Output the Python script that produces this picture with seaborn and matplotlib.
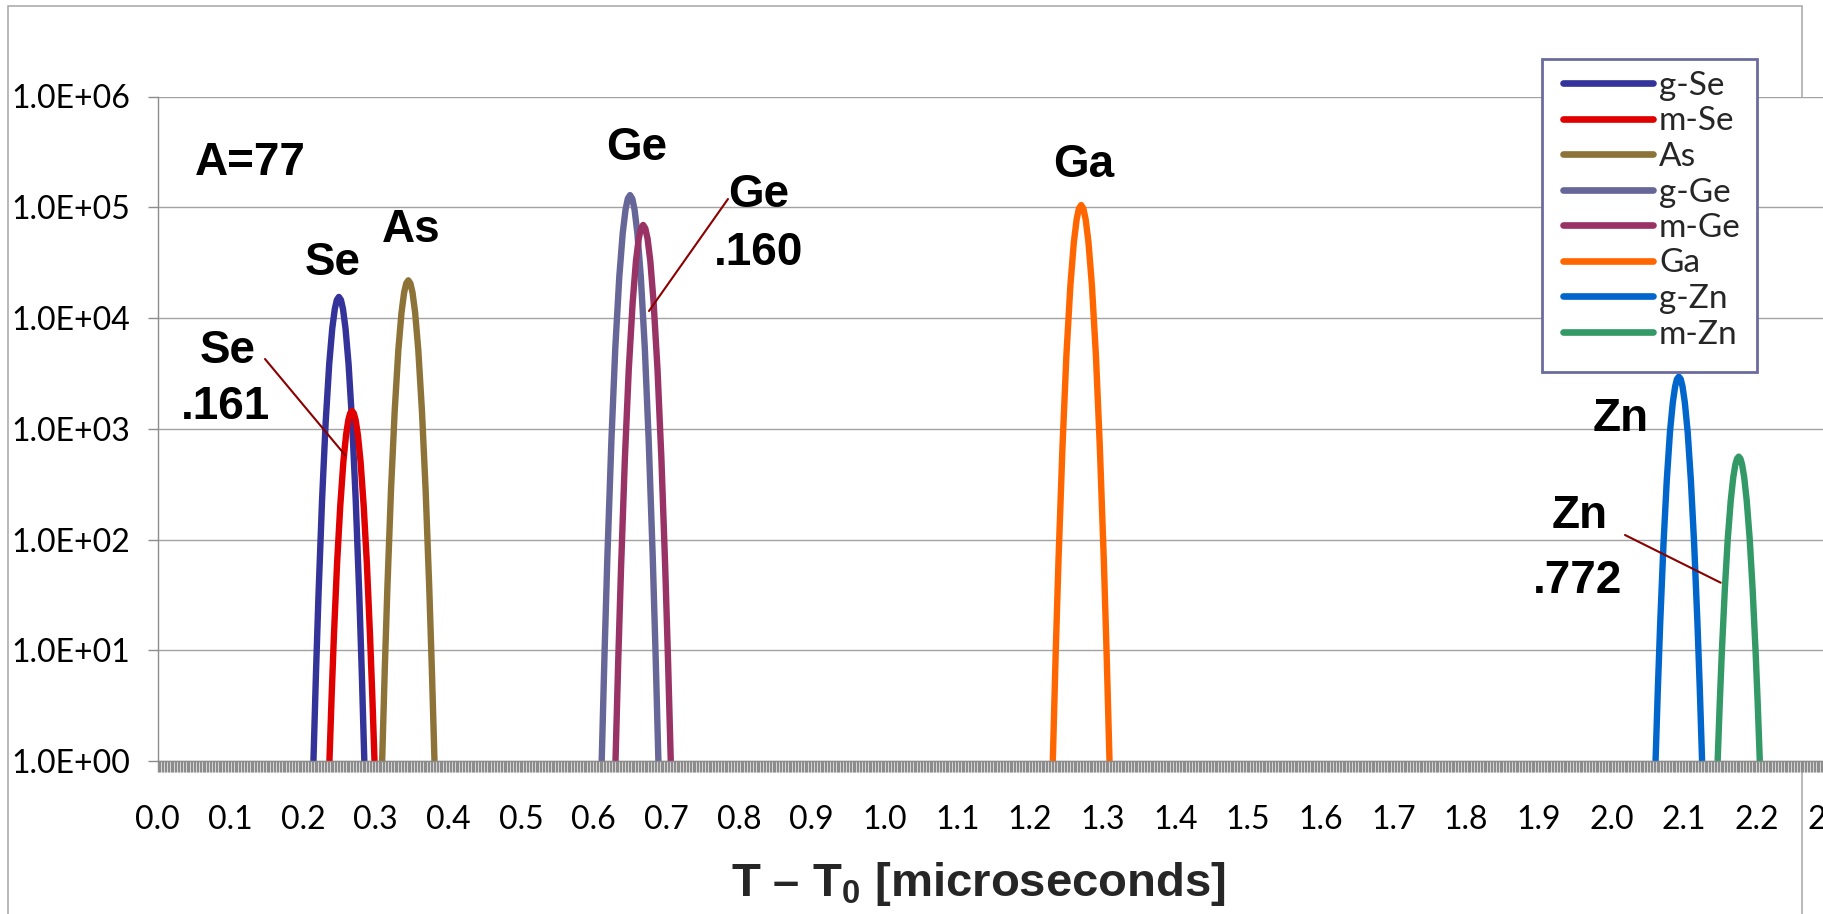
import numpy as np
import pandas as pd
import matplotlib
matplotlib.use("Agg")
import matplotlib.pyplot as plt
import seaborn as sns
from matplotlib.patches import Rectangle
from matplotlib.lines import Line2D
from matplotlib.ticker import MultipleLocator, NullLocator

# ---------------- data ----------------
series_names = ["g-Se", "m-Se", "As", "g-Ge", "m-Ge", "Ga", "g-Zn", "m-Zn"]
series_colors = ["#333399", "#E00000", "#8E7338", "#666699",
                 "#993366", "#FF6600", "#0066CC", "#339966"]

gse_t = [0.2145, 0.2180, 0.2215, 0.2264, 0.2313, 0.2362, 0.2404, 0.2439, 0.2467, 0.2495,
         0.2523, 0.2551, 0.2586, 0.2628, 0.2677, 0.2726, 0.2775, 0.2810, 0.2845]
gse_y = [1, 6.25, 32.2, 232, 1140, 3850, 8070, 12100, 14560, 15500,
         14560, 12100, 8070, 3850, 1140, 232, 32.2, 6.25, 1]

mse_t = [0.2365, 0.2396, 0.2427, 0.2470, 0.2514, 0.2557, 0.2594, 0.2625, 0.2650, 0.2675,
         0.2700, 0.2725, 0.2756, 0.2793, 0.2836, 0.2880, 0.2923, 0.2954, 0.2985]
mse_y = [1, 3.98, 13.7, 60.8, 202, 506, 883, 1200, 1380, 1445,
         1380, 1200, 883, 506, 202, 60.8, 13.7, 3.98, 1]

as_t = [0.3090, 0.3126, 0.3162, 0.3212, 0.3263, 0.3313, 0.3356, 0.3392, 0.3421, 0.3450,
        0.3479, 0.3508, 0.3544, 0.3587, 0.3637, 0.3688, 0.3738, 0.3774, 0.3810]
as_y = [1, 6.68, 36.5, 281, 1466, 5160, 11140, 16940, 20500, 21880,
        20500, 16940, 11140, 5160, 1466, 281, 36.5, 6.68, 1]

gge_t = [0.6110, 0.6149, 0.6188, 0.6243, 0.6297, 0.6352, 0.6399, 0.6438, 0.6469, 0.6500,
         0.6531, 0.6562, 0.6601, 0.6648, 0.6703, 0.6757, 0.6812, 0.6851, 0.6890]
gge_y = [1, 9.35, 69.2, 766, 5350, 23550, 58200, 95300, 119400, 128800,
         119400, 95300, 58200, 23550, 5350, 766, 69.2, 9.35, 1]

mge_t = [0.6300, 0.6338, 0.6376, 0.6429, 0.6482, 0.6536, 0.6581, 0.6619, 0.6650, 0.6680,
         0.6710, 0.6741, 0.6779, 0.6824, 0.6878, 0.6931, 0.6984, 0.7022, 0.7060]
mge_y = [1, 8.32, 55.2, 540, 3400, 13840, 32600, 52000, 64400, 69200,
         64400, 52000, 32600, 13840, 3400, 540, 55.2, 8.32, 1]

ga_t = [1.2315, 1.2354, 1.2393, 1.2448, 1.2502, 1.2557, 1.2604, 1.2643, 1.2674, 1.2705,
        1.2736, 1.2767, 1.2806, 1.2853, 1.2908, 1.2962, 1.3017, 1.3056, 1.3095]
ga_y = [1, 9.0, 64.1, 681, 4600, 19720, 47970, 77800, 97200, 104700,
        97200, 77800, 47970, 19720, 4600, 681, 64.1, 9.0, 1]

gzn_t = [2.0606, 2.0638, 2.0670, 2.0715, 2.0760, 2.0804, 2.0843, 2.0875, 2.0900, 2.0926,
         2.0952, 2.0977, 2.1009, 2.1048, 2.1092, 2.1137, 2.1182, 2.1214, 2.1246]
gzn_y = [1, 4.56, 17.7, 90.8, 340, 931, 1718, 2404, 2805, 2951,
         2805, 2404, 1718, 931, 340, 90.8, 17.7, 4.56, 1]

mzn_t = [2.1460, 2.1489, 2.1518, 2.1559, 2.1599, 2.1640, 2.1675, 2.1704, 2.1727, 2.1750,
         2.1773, 2.1796, 2.1825, 2.1860, 2.1901, 2.1941, 2.1982, 2.2011, 2.2040]
mzn_y = [1, 3.33, 9.75, 35.6, 101, 224, 365, 476, 537, 560,
         537, 476, 365, 224, 101, 35.6, 9.75, 3.33, 1]

x_tick_values = [0.0, 0.1, 0.2, 0.3, 0.4, 0.5, 0.6, 0.7, 0.8, 0.9, 1.0, 1.1,
                 1.2, 1.3, 1.4, 1.5, 1.6, 1.7, 1.8, 1.9, 2.0, 2.1, 2.2, 2.3]
x_tick_labels = ["0.0", "0.1", "0.2", "0.3", "0.4", "0.5", "0.6", "0.7", "0.8", "0.9", "1.0", "1.1",
                 "1.2", "1.3", "1.4", "1.5", "1.6", "1.7", "1.8", "1.9", "2.0", "2.1", "2.2", "2.3"]
y_tick_values = [1, 10, 100, 1000, 10000, 100000, 1000000]
y_tick_labels = ["1.0E+00", "1.0E+01", "1.0E+02", "1.0E+03", "1.0E+04", "1.0E+05", "1.0E+06"]

x_title = r"T – T$_\mathbf{0}$ [microseconds]"

# ---------------- build table ----------------
series_t = [gse_t, mse_t, as_t, gge_t, mge_t, ga_t, gzn_t, mzn_t]
series_y = [gse_y, mse_y, as_y, gge_y, mge_y, ga_y, gzn_y, mzn_y]
frames = []
for name, t, y in zip(series_names, series_t, series_y):
    frames.append(pd.DataFrame({"t": t, "counts": y, "series": name}))
df = pd.concat(frames, ignore_index=True)
palette = dict(zip(series_names, series_colors))

# ---------------- style ----------------
sns.set_style("white")
plt.rcParams["font.family"] = ["Lato", "DejaVu Sans"]
plt.rcParams["mathtext.fontset"] = "custom"
plt.rcParams["mathtext.rm"] = "Liberation Sans"
plt.rcParams["mathtext.bf"] = "Liberation Sans:bold"

W, H, DPI = 1823, 914, 100
fig = plt.figure(figsize=(W / DPI, H / DPI), dpi=DPI)
fig.patch.set_facecolor("white")


def fx(px):
    return px / W


def fy(py):
    return 1 - py / H


GRAY = "#8c8c8c"

# chart-area border
fig.patches.append(Rectangle((fx(7.5), fy(918)), fx(1801.5) - fx(7.5), fy(5.5) - fy(918),
                             transform=fig.transFigure, fill=False, edgecolor="#a6a6a6",
                             linewidth=1.1, zorder=-1))

X0, X1 = 0.0, 2.35
ax = fig.add_axes([fx(157.5), fy(761), (X1 - X0) * 727 / W, (761 - 96.5) / H])
ax.set_facecolor("white")
ax.set_zorder(1)

sns.lineplot(data=df, x="t", y="counts", hue="series", hue_order=series_names,
             palette=palette, sort=False, estimator=None, linewidth=4.6,
             legend=False, ax=ax, solid_joinstyle="round", solid_capstyle="butt")

ax.set_yscale("log")
ax.set_xlim(X0, X1)
ax.set_ylim(1, 1e6)
ax.set_xlabel("")
ax.set_ylabel("")

# grid
ax.set_axisbelow(True)
ax.yaxis.grid(True, color="#a3a3a3", linewidth=1.0)
ax.xaxis.grid(False)

for s in ["top", "right"]:
    ax.spines[s].set_visible(False)
ax.spines["left"].set_color(GRAY)
ax.spines["left"].set_linewidth(1.0)
ax.spines["bottom"].set_color(GRAY)
ax.spines["bottom"].set_linewidth(1.0)

# x ticks: dense gray tick band
ax.set_xticks(x_tick_values)
ax.set_xticklabels(x_tick_labels)
ax.xaxis.set_minor_locator(MultipleLocator(0.002))
ax.tick_params(axis="x", which="both", bottom=True, direction="out", length=8,
               width=1.0, color=GRAY)
ax.tick_params(axis="x", which="major", pad=23.5, labelsize=23, labelcolor="black")

# y ticks
ax.set_yticks(y_tick_values)
ax.set_yticklabels(y_tick_labels)
ax.yaxis.set_minor_locator(NullLocator())
ax.tick_params(axis="y", which="major", left=True, direction="out", length=7.2, width=1.0,
               color=GRAY, pad=12.6, labelsize=23, labelcolor="black")

# ---------------- annotations ----------------
bold = dict(family=["Liberation Sans", "DejaVu Sans"], weight="bold", fontsize=33,
            ha="center", va="baseline", color="black")


def px2data(px, py):
    return (px - 157.5) / 727.0, 10 ** ((761 - py) / 110.75)


for label, (px, py) in [("A=77", (250, 175)), ("Se", (333, 275)), ("As", (411, 242)),
                        ("Ge", (636.5, 160)), ("Ga", (1083.5, 177)), ("Zn", (1621, 431)),
                        ("Se", (228, 363)), (".161", (226, 419)),
                        ("Ge", (758.5, 207)), (".160", (758.5, 265)),
                        ("Zn", (1580, 528)), (".772", (1578, 593))]:
    x, y = px2data(px, py)
    ax.text(x, y, label, **bold)

leader = "#8B0000"
for (p0, p1) in [((265, 359), (345, 455)), ((728, 199), (649, 311)),
                 ((1625, 535), (1720.7, 582.7))]:
    a = px2data(*p0)
    b = px2data(*p1)
    ax.add_line(Line2D([a[0], b[0]], [a[1], b[1]], color=leader, linewidth=1.5, zorder=3))

# x-axis title
fig.text(fx(978.5), fy(896), x_title, fontsize=34, weight="bold",
         family=["Liberation Sans", "DejaVu Sans"], ha="center", va="baseline")

# ---------------- legend ----------------
handles = [Line2D([0], [0], color=c, linewidth=4.8) for c in series_colors]
ax.add_patch(Rectangle((fx(1542), fy(372)), fx(1757) - fx(1542), fy(59) - fy(372),
                       transform=fig.transFigure, facecolor="white", edgecolor="#6b6b9f",
                       linewidth=2.0, zorder=4.9, clip_on=False))
leg = ax.legend(handles, series_names, loc="upper left",
                bbox_to_anchor=(fx(1563), fy(71)), bbox_transform=fig.transFigure,
                frameon=False, borderpad=0, borderaxespad=0, handlelength=2.7,
                handletextpad=0.18, labelspacing=0.165,
                prop={"family": ["Lato", "DejaVu Sans"], "size": 24})
leg.set_zorder(5)

fig.savefig("out.png", dpi=DPI, facecolor="white")
